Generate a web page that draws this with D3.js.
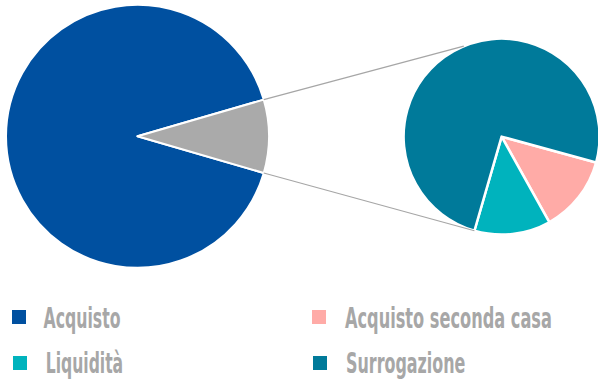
<!DOCTYPE html>
<html>
<head>
<meta charset="utf-8">
<script src="https://cdn.jsdelivr.net/npm/d3@7"></script>
<style>
  html, body { margin: 0; padding: 0; background: #fff; }
  svg { display: block; }
</style>
</head>
<body>
<svg id="chart" width="598" height="380"></svg>
<script>
// Main pie: purpose split, with the remainder broken out in the side pie
const mainCategories = ["Acquisto", "Altro"];
const mainValues = [91, 9];
const mainColors = ["#0050a0", "#aaaaaa"];

// Breakdown of the grey "Altro" slice
const subCategories = ["Acquisto seconda casa", "Liquidità", "Surrogazione"];
const subValues = [1.14, 1.13, 6.73];
const subColors = ["#ffaba7", "#00b3bd", "#007a9a"];

// Legend order (row by row)
const legendLabels = ["Acquisto", "Acquisto seconda casa", "Liquidità", "Surrogazione"];
const legendColors = ["#0050a0", "#ffaba7", "#00b3bd", "#007a9a"];

const svg = d3.select("#chart");
const deg = Math.PI / 180;

const main = { cx: 137.5, cy: 136.3, r: 131.5 };
const side = { cx: 501.6, cy: 136.6, r: 98 };

// Main pie: the grey slice sits centred on the horizontal axis, pointing right
const greyAngle = mainValues[1] / d3.sum(mainValues) * 2 * Math.PI;
const mainStart = Math.PI / 2 + greyAngle / 2;
const mainPie = d3.pie().sort(null).startAngle(mainStart).endAngle(mainStart + 2 * Math.PI);
const mainArc = d3.arc().innerRadius(0).outerRadius(main.r);

const gMain = svg.append("g").attr("transform", `translate(${main.cx},${main.cy})`);
gMain.selectAll("path")
  .data(mainPie(mainValues))
  .join("path")
  .attr("d", mainArc)
  .attr("fill", (d, i) => mainColors[i])
  .attr("stroke", "#fff")
  .attr("stroke-width", 2)
  .attr("stroke-linejoin", "round");

// Side pie
const sideStart = 105.3 * deg;
const sidePie = d3.pie().sort(null).startAngle(sideStart).endAngle(sideStart + 2 * Math.PI);
const sideArc = d3.arc().innerRadius(0).outerRadius(side.r);

const gSide = svg.append("g").attr("transform", `translate(${side.cx},${side.cy})`);
const sideSlices = sidePie(subValues);
gSide.selectAll("path")
  .data(sideSlices)
  .join("path")
  .attr("d", sideArc)
  .attr("fill", (d, i) => subColors[i])
  .attr("stroke", "#fff")
  .attr("stroke-width", 2.5)
  .attr("stroke-linejoin", "round");

// Connector lines from the grey slice edges to the side pie
const polar = (c, a, r) => [c.cx + r * Math.sin(a), c.cy - r * Math.cos(a)];
const greyStart = mainStart - greyAngle;          // upper edge of grey slice
const greyEnd = mainStart;                         // lower edge of grey slice
const connectors = [
  [polar(main, greyStart, main.r), polar(side, 337.3 * deg, side.r)],
  [polar(main, greyEnd, main.r), polar(side, sideSlices[2].startAngle, side.r)]
];
svg.append("g").selectAll("line")
  .data(connectors)
  .join("line")
  .attr("x1", d => d[0][0]).attr("y1", d => d[0][1])
  .attr("x2", d => d[1][0]).attr("y2", d => d[1][1])
  .attr("stroke", "#a6a6a6")
  .attr("stroke-width", 1.2);

// Legend: two columns, two rows; labels are squeezed horizontally to a condensed width
const legendPos = [
  { mx: 12, my: 310, tx: 43.5, ty: 327.7, w: 77 },
  { mx: 312, my: 310, tx: 345, ty: 327.7, w: 207 },
  { mx: 13, my: 356, tx: 45.7, ty: 372.7, w: 77.5 },
  { mx: 313, my: 356, tx: 346, ty: 372.7, w: 119.5 }
];
const legend = svg.append("g").selectAll("g")
  .data(legendLabels)
  .join("g");
legend.append("rect")
  .attr("x", (d, i) => legendPos[i].mx)
  .attr("y", (d, i) => legendPos[i].my)
  .attr("width", 14)
  .attr("height", 14)
  .attr("fill", (d, i) => legendColors[i]);
legend.append("text")
  .attr("x", 0)
  .attr("y", 0)
  .attr("font-family", "'Liberation Sans Narrow', 'DejaVu Sans Condensed', 'Roboto', sans-serif")
  .attr("font-weight", "bold")
  .attr("font-size", 28)
  .attr("fill", "#a7a7a7")
  .text(d => d)
  .attr("transform", function (d, i) {
    const p = legendPos[i];
    const natural = this.getComputedTextLength() || p.w;
    return `translate(${p.tx},${p.ty}) scale(${p.w / natural},1)`;
  });
</script>
</body>
</html>
